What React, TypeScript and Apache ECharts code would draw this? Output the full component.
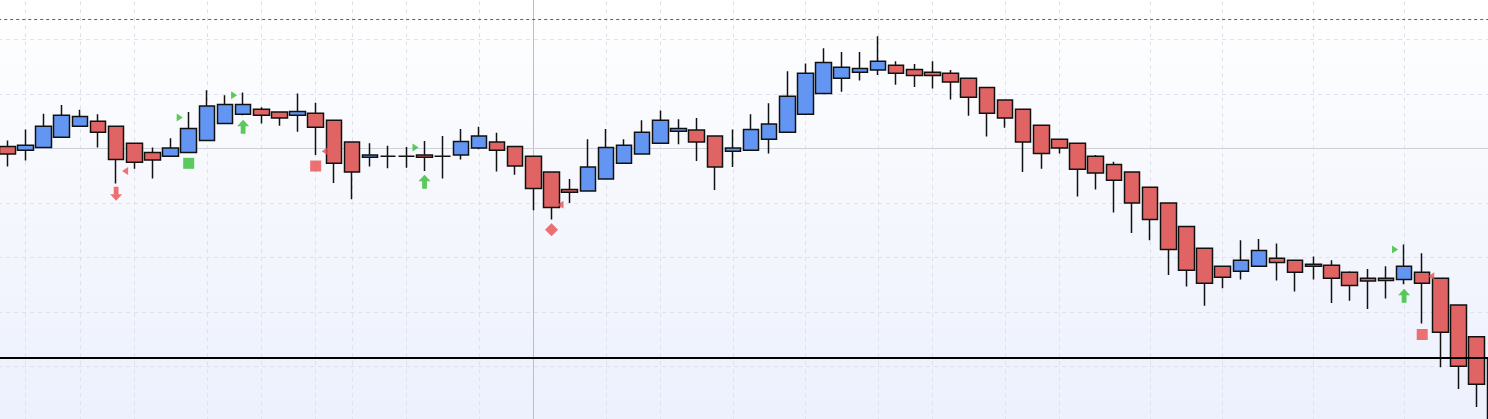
import React, { useEffect, useRef } from "react";
import * as echarts from "echarts";

// Bar labels (one per candle; 83 bars, the last one is cut by the right edge)
const categories: string[] = [
  "B01","B02","B03","B04","B05","B06","B07","B08","B09","B10",
  "B11","B12","B13","B14","B15","B16","B17","B18","B19","B20",
  "B21","B22","B23","B24","B25","B26","B27","B28","B29","B30",
  "B31","B32","B33","B34","B35","B36","B37","B38","B39","B40",
  "B41","B42","B43","B44","B45","B46","B47","B48","B49","B50",
  "B51","B52","B53","B54","B55","B56","B57","B58","B59","B60",
  "B61","B62","B63","B64","B65","B66","B67","B68","B69","B70",
  "B71","B72","B73","B74","B75","B76","B77","B78","B79","B80",
  "B81","B82","B83",
];

const opens: number[] = [
  24.04, 23.97, 24.02, 24.21, 24.41, 24.50, 24.41, 24.10, 23.93, 23.86,
  23.93, 24.15, 24.46, 24.63, 24.72, 24.67, 24.61, 24.65, 24.52, 24.12,
  23.84, 23.86, 23.86, 23.88, 23.86, 23.88, 24.01, 24.12, 24.04, 23.86,
  23.57, 23.25, 23.22, 23.44, 23.73, 23.90, 24.10, 24.32, 24.34, 24.23,
  23.95, 23.97, 24.17, 24.30, 24.63, 25.01, 25.29, 25.40, 25.44, 25.53,
  25.45, 25.40, 25.38, 25.29, 25.12, 24.89, 24.72, 24.43, 24.17, 24.10,
  23.86, 23.71, 23.57, 23.29, 23.00, 22.57, 22.17, 21.84, 21.75, 21.84,
  21.99, 21.95, 21.84, 21.86, 21.73, 21.62, 21.58, 21.60, 21.73, 21.62,
  21.13, 20.55, 20.16,
];

const closes: number[] = [
  23.90, 24.06, 24.41, 24.61, 24.59, 24.30, 23.80, 23.75, 23.79, 24.01,
  24.37, 24.78, 24.81, 24.81, 24.61, 24.56, 24.68, 24.39, 23.73, 23.57,
  23.88, 23.86, 23.86, 23.84, 23.86, 24.13, 24.23, 23.97, 23.68, 23.27,
  22.92, 23.20, 23.66, 24.02, 24.06, 24.30, 24.52, 24.37, 24.12, 23.66,
  24.01, 24.35, 24.45, 24.96, 25.38, 25.58, 25.49, 25.47, 25.60, 25.38,
  25.34, 25.34, 25.22, 24.94, 24.65, 24.56, 24.12, 23.91, 24.01, 23.62,
  23.55, 23.42, 23.00, 22.70, 22.15, 21.77, 21.53, 21.64, 21.95, 22.13,
  21.91, 21.73, 21.88, 21.62, 21.49, 21.57, 21.62, 21.84, 21.53, 20.63,
  20.01, 19.68, 18.66,
];

const lows: number[] = [
  23.67, 23.78, 24.01, 24.20, 24.40, 24.02, 23.36, 23.63, 23.45, 23.85,
  23.92, 24.14, 24.45, 24.61, 24.46, 24.42, 24.31, 23.88, 23.37, 23.07,
  23.67, 23.64, 23.65, 23.59, 23.45, 23.80, 23.99, 23.58, 23.52, 22.87,
  22.70, 23.00, 23.21, 23.43, 23.72, 23.89, 24.09, 24.08, 23.77, 23.24,
  23.66, 23.96, 23.91, 24.29, 24.62, 25.00, 25.04, 25.25, 25.35, 25.17,
  25.13, 25.10, 24.90, 24.60, 24.22, 24.38, 23.57, 23.63, 23.91, 23.12,
  23.25, 22.83, 22.45, 22.32, 21.68, 21.47, 21.12, 21.44, 21.60, 21.83,
  21.58, 21.38, 21.60, 21.17, 21.21, 21.06, 21.25, 21.51, 20.79, 19.99,
  19.59, 19.26, 18.40,
];

const highs: number[] = [
  24.15, 24.35, 24.64, 24.80, 24.71, 24.63, 24.42, 24.11, 24.02, 24.19,
  24.67, 25.07, 24.98, 25.03, 24.76, 24.68, 25.01, 24.84, 24.53, 24.13,
  24.10, 24.05, 24.03, 24.14, 24.23, 24.36, 24.40, 24.29, 24.05, 23.87,
  23.58, 23.44, 24.17, 24.36, 24.17, 24.52, 24.70, 24.54, 24.56, 24.24,
  24.35, 24.63, 24.83, 25.42, 25.56, 25.84, 25.77, 25.77, 26.06, 25.60,
  25.55, 25.60, 25.44, 25.30, 25.13, 24.90, 24.73, 24.44, 24.18, 24.11,
  23.88, 23.76, 23.58, 23.30, 23.01, 22.58, 22.18, 21.85, 22.32, 22.34,
  22.26, 21.96, 22.02, 21.95, 21.75, 21.79, 21.84, 22.24, 22.08, 21.63,
  21.14, 20.56, 20.27,
];

// Bars where a dashed vertical separator is drawn
const separatorBars: number[] = [1, 4, 7, 11, 14, 17, 19, 22, 26, 33, 36, 40, 44, 48, 51, 55, 58, 63, 67, 72, 77];

// Cursor (crosshair) position
const cursorBar = 29;
const cursorPrice = 24.0;

// Horizontal levels
const upperLevel = 26.38;
const lowerLevel = 20.16;

// Signals: [bar index, price]
const buyArrows: [number, number][] = [[13, 24.40], [23, 23.39], [77, 21.30]];
const sellArrows: [number, number][] = [[6, 23.17]];
const buySquares: [number, number][] = [[10, 23.73]];
const sellSquares: [number, number][] = [[17, 23.68], [78, 20.59]];
const sellDiamonds: [number, number][] = [[30, 22.51]];
const buyFlags: [number, number][] = [[10, 24.57], [13, 24.98], [23, 24.02], [77, 22.15]];
const sellFlags: [number, number][] = [[6, 23.59], [17, 23.95], [30, 22.97], [78, 21.66]];

const GREEN = "#33bd33";
const RED = "#e84f4f";

const toPoints = (list: [number, number][]) => list.map(([i, v]) => [categories[i], v]);

export default function App() {
  const ref = useRef<HTMLDivElement>(null);

  useEffect(() => {
    if (!ref.current) return;
    const chart = echarts.init(ref.current, null, { renderer: "svg" });

    const candleData = opens.map((o, i) => [o, closes[i], lows[i], highs[i]]);

    const option: any = {
      animation: false,
      backgroundColor: "transparent",
      grid: {
        left: -1.77,
        right: -15.85,
        top: -15.01,
        bottom: -2.23,
        containLabel: false,
        outerBoundsMode: "none",
      },
      xAxis: {
        type: "category",
        data: categories,
        boundaryGap: true,
        axisLine: { show: false },
        axisTick: { show: false },
        axisLabel: { show: false },
        splitLine: { show: false },
      },
      yAxis: {
        type: "value",
        min: 19,
        max: 27,
        interval: 1,
        scale: true,
        axisLine: { show: false },
        axisTick: { show: false },
        axisLabel: { show: false },
        splitLine: {
          show: true,
          lineStyle: { color: "#dde1ea", width: 1, type: [4, 4] },
        },
      },
      series: [
        {
          name: "backdrop",
          type: "line",
          data: [],
          z: 1,
          silent: true,
          markLine: {
            z: 1,
            silent: true,
            symbol: ["none", "none"],
            label: { show: false },
            animation: false,
            data: [
              ...separatorBars.map((b) => ({
                xAxis: categories[b],
                lineStyle: { color: "#dde1ea", width: 1, type: [4, 4] },
              })),
              { xAxis: categories[cursorBar], lineStyle: { color: "#b9bdc6", width: 1, type: "solid" } },
              { yAxis: cursorPrice, lineStyle: { color: "#cdd1da", width: 1, type: "solid" } },
            ],
          },
        },
        {
          name: "price",
          type: "candlestick",
          data: candleData,
          z: 2,
          barWidth: 16,
          itemStyle: {
            color: "#6396f2",
            color0: "#e06464",
            borderColor: "#111111",
            borderColor0: "#111111",
            borderWidth: 1.5,
          },
        },
        {
          name: "levels",
          type: "line",
          data: [],
          z: 3,
          silent: true,
          markLine: {
            z: 3,
            silent: true,
            symbol: ["none", "none"],
            label: { show: false },
            animation: false,
            data: [
              { yAxis: upperLevel, lineStyle: { color: "#d42a3a", width: 1, type: [3, 3] } },
              { yAxis: lowerLevel, lineStyle: { color: "#000000", width: 2, type: "solid" } },
            ],
          },
        },
        {
          name: "buyArrow",
          type: "scatter",
          z: 4,
          symbol: "path://M6,0 L12,6.5 L8.4,6.5 L8.4,14 L3.6,14 L3.6,6.5 L0,6.5 Z",
          symbolSize: [12, 14],
          itemStyle: { color: GREEN },
          data: toPoints(buyArrows),
        },
        {
          name: "sellArrow",
          type: "scatter",
          z: 4,
          symbol: "path://M3.6,0 L8.4,0 L8.4,7.5 L12,7.5 L6,14 L0,7.5 L3.6,7.5 Z",
          symbolSize: [12, 14],
          itemStyle: { color: RED },
          data: toPoints(sellArrows),
        },
        {
          name: "buySquare",
          type: "scatter",
          z: 4,
          symbol: "rect",
          symbolSize: 11,
          itemStyle: { color: GREEN },
          data: toPoints(buySquares),
        },
        {
          name: "sellSquare",
          type: "scatter",
          z: 4,
          symbol: "rect",
          symbolSize: 11,
          itemStyle: { color: RED },
          data: toPoints(sellSquares),
        },
        {
          name: "sellDiamond",
          type: "scatter",
          z: 4,
          symbol: "diamond",
          symbolSize: 13,
          itemStyle: { color: RED },
          data: toPoints(sellDiamonds),
        },
        {
          name: "buyFlag",
          type: "scatter",
          z: 4,
          symbol: "path://M0,0 L10,6 L0,12 Z",
          symbolSize: [6, 8],
          symbolOffset: [-9, 0],
          itemStyle: { color: GREEN },
          data: toPoints(buyFlags),
        },
        {
          name: "sellFlag",
          type: "scatter",
          z: 4,
          symbol: "path://M10,0 L0,6 L10,12 Z",
          symbolSize: [6, 8],
          symbolOffset: [9, 0],
          itemStyle: { color: RED },
          data: toPoints(sellFlags),
        },
      ],
    };

    chart.setOption(option);
    return () => chart.dispose();
  }, []);

  return (
    <div
      ref={ref}
      style={{
        position: "fixed",
        left: 0,
        top: 0,
        width: 1488,
        height: 419,
        background: "linear-gradient(to bottom, #ffffff 0%, #f5f7fd 50%, #edf1fd 100%)",
      }}
    />
  );
}
